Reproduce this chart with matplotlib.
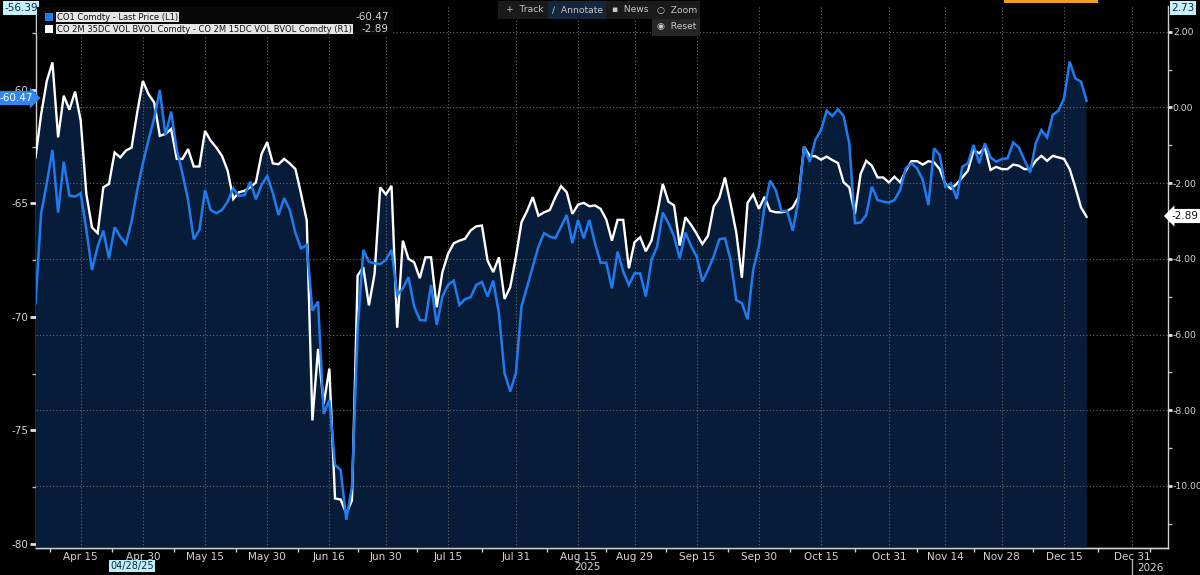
import matplotlib
matplotlib.use("Agg")
import matplotlib.pyplot as plt
from matplotlib.patches import Rectangle
from matplotlib.lines import Line2D
import numpy as np
import pandas as pd

plt.rcParams['font.family'] = ['Liberation Sans Narrow', 'DejaVu Sans']

# ---------------- data ----------------
start_date = "2025-04-03"
end_date = "2025-12-19"
axis_end_date = "2026-01-09"

brent_last = [
    -69.40, -65.43, -64.11, -62.64, -65.40, -63.16, -64.65, -64.70, -64.55, -66.17,
    -67.93, -66.90, -66.20, -67.42, -66.05, -66.46, -66.78, -65.80, -64.41, -63.23,
    -62.20, -61.25, -60.00, -61.98, -60.95, -62.64, -63.67, -64.85, -66.58, -66.17,
    -64.41, -65.29, -65.43, -65.29, -64.92, -64.33, -64.67, -64.63, -64.04, -64.82,
    -64.19, -63.79, -64.55, -65.51, -64.77, -65.29, -66.31, -66.98, -66.83, -69.72,
    -69.32, -74.27, -73.66, -76.52, -76.74, -78.94, -77.47, -70.57, -67.05, -67.56,
    -67.64, -67.67, -67.49, -67.05, -69.03, -68.74, -68.25, -69.54, -70.13, -70.16,
    -68.59, -70.35, -69.10, -68.59, -68.40, -69.47, -69.22, -69.13, -68.59, -68.46,
    -69.10, -68.40, -69.84, -72.48, -73.29, -72.48, -69.54, -68.66, -67.78, -66.90,
    -66.31, -66.46, -66.53, -66.02, -65.51, -66.75, -65.73, -66.53, -65.73, -66.75,
    -67.61, -67.61, -68.74, -67.12, -68.00, -68.59, -68.08, -68.08, -69.10, -67.49,
    -66.90, -65.40, -65.87, -66.46, -67.42, -66.28, -66.87, -67.34, -68.44, -67.93,
    -67.34, -66.58, -66.53, -67.49, -69.25, -69.40, -70.10, -67.93, -66.90, -65.14,
    -63.99, -64.41, -65.33, -65.33, -66.20, -64.85, -62.50, -63.16, -62.20, -61.76,
    -60.91, -61.15, -60.85, -61.15, -62.35, -65.87, -65.84, -65.51, -64.26, -64.85,
    -64.92, -64.96, -64.85, -64.41, -63.45, -63.23, -63.45, -63.96, -65.07, -62.57,
    -62.86, -64.26, -64.11, -64.80, -63.38, -63.23, -62.42, -63.23, -62.35, -62.97,
    -63.16, -63.04, -63.01, -62.31, -62.53, -63.08, -63.64, -62.35, -61.76, -62.09,
    -61.10, -60.91, -60.37, -58.75, -59.49, -59.63, -60.47,
]

vol_spread = [
    -1.32, -0.18, 0.70, 1.19, -0.79, 0.31, -0.06, 0.42, -0.35, -2.29,
    -3.17, -3.32, -2.11, -2.02, -1.19, -1.32, -1.14, -1.06, -0.13, 0.70,
    0.35, 0.13, -0.75, -0.70, -0.57, -1.36, -1.36, -1.10, -1.56, -1.56,
    -0.62, -0.88, -1.06, -1.28, -1.67, -2.42, -2.24, -2.20, -2.11, -1.98,
    -1.23, -0.92, -1.48, -1.50, -1.36, -1.48, -1.63, -2.29, -2.99, -8.27,
    -6.38, -7.83, -6.90, -10.33, -10.36, -10.73, -10.38, -4.44, -4.22, -5.23,
    -4.40, -2.11, -2.30, -2.07, -5.82, -3.52, -4.00, -4.09, -4.51, -3.96,
    -3.96, -5.28, -4.35, -3.87, -3.59, -3.52, -3.47, -3.25, -3.14, -3.12,
    -4.05, -4.35, -3.96, -5.06, -4.75, -3.96, -3.03, -2.73, -2.37, -2.86,
    -2.77, -2.71, -2.37, -2.08, -2.24, -2.81, -2.57, -2.52, -2.61, -2.59,
    -2.68, -2.96, -3.52, -2.97, -2.97, -4.25, -3.56, -3.43, -3.80, -3.52,
    -2.81, -2.02, -2.49, -2.59, -3.65, -2.90, -3.10, -3.34, -3.61, -3.39,
    -2.62, -2.39, -1.85, -2.55, -3.30, -4.50, -2.52, -2.30, -2.68, -2.36,
    -2.73, -2.77, -2.77, -2.74, -2.64, -2.37, -1.04, -1.28, -1.29, -1.38,
    -1.30, -1.39, -1.47, -1.98, -2.11, -2.81, -1.76, -1.41, -1.54, -1.85,
    -1.85, -1.98, -1.83, -1.98, -1.67, -1.42, -1.42, -1.51, -1.42, -1.45,
    -1.63, -2.02, -2.15, -2.02, -1.85, -1.67, -1.13, -1.21, -1.06, -1.65,
    -1.57, -1.63, -1.63, -1.51, -1.54, -1.63, -1.63, -1.41, -1.28, -1.41,
    -1.28, -1.32, -1.36, -1.63, -2.11, -2.64, -2.89,
]

tick_dates = ["2025-04-15", "2025-04-30", "2025-05-15", "2025-05-30", "2025-06-16",
              "2025-06-30", "2025-07-15", "2025-07-31", "2025-08-15", "2025-08-29",
              "2025-09-15", "2025-09-30", "2025-10-15", "2025-10-31", "2025-11-14",
              "2025-11-28", "2025-12-15", "2025-12-31"]
tick_labels = ["Apr 15", "Apr 30", "May 15", "May 30", "Jun 16", "Jun 30", "Jul 15",
               "Jul 31", "Aug 15", "Aug 29", "Sep 15", "Sep 30", "Oct 15", "Oct 31",
               "Nov 14", "Nov 28", "Dec 15", "Dec 31"]

left_ticks = [-60, -65, -70, -75, -80]
left_minor = [-57.5, -62.5, -67.5, -72.5, -77.5]
right_ticks = [2, 0, -2, -4, -6, -8, -10]
right_minor = [1, -1, -3, -5, -7, -9, -11]

legend_names = ["CO1 Comdty - Last Price (L1)",
                "CO 2M 35DC VOL BVOL Comdty - CO 2M 15DC VOL BVOL Comdty (R1)"]
legend_values = ["-60.47", "-2.89"]

# ---------------- styles ----------------
W, H = 1200, 575
BG = "#000000"
NAVY = "#071c38"
BLUE = "#1f7cf0"
WHITE = "#ffffff"
GRID = "#6a6a6a"
TXT = "#d4d4d4"

all_days = pd.bdate_range(start_date, axis_end_date)
data_days = pd.bdate_range(start_date, end_date)
x = np.arange(len(data_days))
tick_pos = [all_days.get_loc(pd.Timestamp(d)) for d in tick_dates]
minor_pos = [(tick_pos[i] + tick_pos[i + 1]) / 2 for i in range(len(tick_pos) - 1)]
minor_pos = [tick_pos[0] - (tick_pos[1] - tick_pos[0]) / 2] + minor_pos + [tick_pos[-1] + 3.3]


def fx(px):
    return px / W


def fy(py):
    return 1 - py / H


fig = plt.figure(figsize=(12, 5.75), dpi=100, facecolor=BG)
ax_left, ax_right, ax_top, ax_bot = 35.5, 1168, 6, 548
ax = fig.add_axes([fx(ax_left), fy(ax_bot), fx(ax_right - ax_left), (ax_bot - ax_top) / H])
ax.set_facecolor(BG)
ax.set_xlim(0, 200.4)
ax.set_ylim(-80.18, -56.30)

# blue area
ax.fill_between(x, brent_last, -100, color=NAVY, lw=0, zorder=1)

# right axis: vol spread area + line + grid
ax2 = ax.twinx()
ax2.set_ylim(-11.64, 2.68)
ax2.fill_between(x, vol_spread, -20, color=NAVY, lw=0, zorder=1)
ax2.set_axisbelow('line')
ax2.grid(True, axis='y', color=GRID, linestyle=(0, (1, 2)), lw=0.8)
ax2.vlines(tick_pos, 0, 1, transform=ax2.get_xaxis_transform(), color=GRID,
           linestyle=(0, (1, 2)), lw=0.8, zorder=1.5)
ax2.plot(x, vol_spread, color=WHITE, lw=1.7, zorder=2, solid_joinstyle='miter')

# blue line on top
ax3 = ax.twinx()
ax3.set_ylim(ax.get_ylim())
ax3.set_axis_off()
ax3.plot(x, brent_last, color=BLUE, lw=1.8, zorder=3, solid_joinstyle='miter')

# axes styling
for a in (ax, ax2):
    for s in a.spines.values():
        s.set_color("#cfcfcf")
        s.set_linewidth(1.0)
    a.spines['top'].set_visible(False)
ax.spines['right'].set_visible(False)
ax2.spines['left'].set_visible(False)

ax.set_yticks(left_ticks)
ax.set_yticklabels([f"{v}" for v in left_ticks])
ax.set_yticks(left_minor, minor=True)
ax.tick_params(axis='y', which='major', direction='out', length=4, width=2,
               color="#e0e0e0", labelcolor=TXT, labelsize=7.5, pad=1)
ax.tick_params(axis='y', which='minor', direction='out', length=3, width=1, color="#bbbbbb")

ax2.set_yticks(right_ticks)
ax2.set_yticklabels([f"{v:.2f}" for v in right_ticks])
ax2.set_yticks(right_minor, minor=True)
ax2.tick_params(axis='y', which='major', direction='out', length=3, width=2,
                color="#e0e0e0", labelcolor=TXT, labelsize=6.7, pad=0.5)
ax2.tick_params(axis='y', which='minor', direction='out', length=3, width=1, color="#bbbbbb")

ax.set_xticks(tick_pos)
ax.set_xticklabels(tick_labels)
ax.set_xticks(minor_pos, minor=True)
ax.tick_params(axis='x', which='major', length=0, labelcolor=TXT, labelsize=7.5, pad=3)
ax.tick_params(axis='x', which='minor', direction='out', length=3, width=1, color="#cfcfcf")

# ---------------- annotations ----------------
# legend panel
fig.add_artist(Rectangle((fx(37), fy(35)), fx(393 - 37), 28 / H, transform=fig.transFigure,
                         fc="#070707", ec="none", zorder=5))
for i, (name, val, col) in enumerate(zip(legend_names, legend_values, [BLUE, WHITE])):
    yc = 17 + 12 * i
    fig.add_artist(Rectangle((fx(45), fy(yc + 4)), fx(8), 8 / H, transform=fig.transFigure,
                             fc=col, ec="none", zorder=6))
    fig.text(fx(57), fy(yc), name, fontsize=6.0, color="#111111", va='center', ha='left',
             zorder=6, bbox=dict(fc="#e6e6e6", ec="none", pad=0.6))
    fig.text(fx(389), fy(yc), val, fontsize=7.5, color=TXT, va='center', ha='right', zorder=6)

# toolbar
for (x0, x1, y0, y1, c) in [(498, 548, 1, 19, "#1a1a1a"), (548, 606, 1, 19, "#13263c"),
                            (606, 652, 1, 19, "#1a1a1a"), (652, 700, 1, 19, "#1a1a1a"),
                            (652, 700, 19, 36, "#262626")]:
    fig.add_artist(Rectangle((fx(x0), fy(y1)), fx(x1 - x0), (y1 - y0) / H,
                             transform=fig.transFigure, fc=c, ec="none", zorder=5))
for (px, py, s) in [(506, 10, "+  Track"), (552, 10, "\u2215  Annotate"), (612, 10, "\u25aa  News"),
                    (657, 10, "\u25cb  Zoom"), (657, 27, "\u25c9  Reset")]:
    fig.text(fx(px), fy(py), s, fontsize=6.6, color="#c8c8c8", va='center', ha='left', zorder=6)

# orange strip at top
fig.add_artist(Rectangle((fx(1004), fy(2.5)), fx(94), 2.5 / H, transform=fig.transFigure,
                         fc="#f0a020", ec="none", zorder=6))

# value flags
fig.text(fx(21), fy(8), "-56.39", fontsize=7.5, color="#0b2a48", ha='center', va='center',
         bbox=dict(boxstyle="square,pad=0.15", fc="#c4f0f6", ec="none"))
fig.text(fx(1183), fy(8), "2.73", fontsize=7.5, color="#0b2a48", ha='center', va='center',
         bbox=dict(boxstyle="square,pad=0.15", fc="#c4f0f6", ec="none"))
fig.text(fx(16), fy(98), "-60.47", fontsize=7.5, color="#ffffff", ha='center', va='center',
         bbox=dict(boxstyle="rarrow,pad=0.2", fc="#2f86f0", ec="none"))
fig.text(fx(1185), fy(216), "-2.89", fontsize=7.5, color="#111111", ha='center', va='center',
         bbox=dict(boxstyle="larrow,pad=0.2", fc="#ffffff", ec="none"))

# year labels and cursor date
fig.text(fx(587), fy(567), "2025", fontsize=7.5, color=TXT, ha='center', va='center')
fig.text(fx(1150), fy(568), "2026", fontsize=7.5, color=TXT, ha='center', va='center')
fig.add_artist(Line2D([fx(1132), fx(1132)], [fy(560), fy(575)], transform=fig.transFigure,
                      color="#aaaaaa", lw=1))
fig.text(fx(132), fy(566), "04/28/25", fontsize=7, color="#0b2a48", ha='center', va='center',
         bbox=dict(boxstyle="square,pad=0.12", fc="#bff0f5", ec="none"))

fig.savefig("out.png", dpi=100, facecolor=BG)
